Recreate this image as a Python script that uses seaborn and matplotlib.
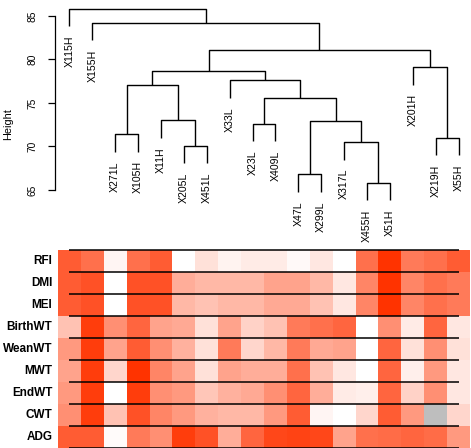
import numpy as np
import pandas as pd
import matplotlib
matplotlib.use('Agg')
import matplotlib.pyplot as plt
import seaborn as sns
from matplotlib.colors import LinearSegmentedColormap

# --- Data ---
leaves = ['X115H', 'X155H', 'X271L', 'X105H', 'X11H', 'X205L', 'X451L', 'X33L', 'X23L',
          'X409L', 'X47L', 'X299L', 'X317L', 'X455H', 'X51H', 'X201H', 'X219H', 'X55H']

# R-style merge matrix: negative = leaf (1-based), positive = earlier merge (1-based)
merge_left = [-14, -11, -6, -13, -17, -3, -9, 2, -5, 7, 6, -8, 11, -16, 13, -2, -1]
merge_right = [-15, -12, -7, 1, -18, -4, -10, 4, 3, 8, 9, 10, 12, 5, 14, 15, 16]
merge_height = [65.8, 66.8, 70.1, 70.5, 71.0, 71.4, 72.6, 72.9, 73.0,
                75.6, 77.1, 77.6, 78.7, 79.1, 81.1, 84.2, 85.8]

traits = ['RFI', 'DMI', 'MEI', 'BirthWT', 'WeanWT', 'MWT', 'EndWT', 'CWT', 'ADG']

rfi     = [0.80, 0.70, 0.05, 0.70, 0.80, 0.00, 0.15, 0.06, 0.10, 0.10, 0.03, 0.12, 0.00, 0.70, 1.00, 0.65, 0.70, 0.80]
dmi     = [0.80, 0.85, 0.00, 0.85, 0.85, 0.40, 0.35, 0.35, 0.35, 0.45, 0.45, 0.35, 0.12, 0.60, 1.00, 0.60, 0.70, 0.65]
mei     = [0.80, 0.85, 0.00, 0.85, 0.85, 0.35, 0.30, 0.35, 0.35, 0.42, 0.42, 0.30, 0.12, 0.60, 1.00, 0.60, 0.70, 0.65]
birthwt = [0.30, 0.95, 0.55, 0.75, 0.45, 0.42, 0.15, 0.45, 0.22, 0.30, 0.65, 0.70, 0.75, 0.00, 0.55, 0.10, 0.75, 0.12]
weanwt  = [0.50, 0.95, 0.45, 0.80, 0.55, 0.38, 0.15, 0.65, 0.20, 0.35, 0.65, 0.42, 0.45, 0.00, 0.75, 0.15, 0.55, 0.15]
mwt     = [0.45, 0.95, 0.20, 1.00, 0.60, 0.45, 0.15, 0.45, 0.40, 0.40, 0.70, 0.30, 0.12, 0.00, 0.75, 0.08, 0.50, 0.12]
endwt   = [0.50, 0.95, 0.00, 0.95, 0.55, 0.50, 0.28, 0.38, 0.42, 0.55, 0.75, 0.40, 0.10, 0.08, 0.75, 0.22, 0.55, 0.12]
cwt     = [0.55, 0.95, 0.30, 0.85, 0.60, 0.50, 0.38, 0.35, 0.35, 0.50, 0.80, 0.05, 0.00, 0.20, 0.80, 0.50, np.nan, 0.20]
adg     = [0.80, 0.80, 0.02, 0.65, 0.55, 0.95, 0.85, 0.40, 0.75, 0.90, 0.92, 0.90, 0.45, 0.70, 0.72, 0.75, 0.72, 0.50]

plt.rcParams['font.family'] = ['Liberation Sans', 'DejaVu Sans']

W, H = 471, 448
fig = plt.figure(figsize=(W / 100, H / 100), dpi=100)

# --- Dendrogram ---
ax_d = fig.add_axes([58 / W, (H - 240) / H, 412 / W, 240 / H])
hang = 0.1 * (max(merge_height) - min(merge_height))

node_x = []
def child_info(ref, parent_h):
    if ref < 0:
        return -ref - 1 + 0.5, parent_h - hang, leaves[-ref - 1]
    return node_x[ref - 1], merge_height[ref - 1], None

for a, b, h in zip(merge_left, merge_right, merge_height):
    xa, ya, la = child_info(a, h)
    xb, yb, lb = child_info(b, h)
    ax_d.plot([xa, xa, xb, xb], [ya, h, h, yb], color='black', lw=1.0, solid_capstyle='butt')
    for x, y, lab in [(xa, ya, la), (xb, yb, lb)]:
        if lab is not None:
            ax_d.annotate(lab, (x, y), xytext=(0, -6.7), textcoords='offset points',
                          rotation=90, ha='center', va='top', fontsize=7.6)
    node_x.append((xa + xb) / 2)

ax_d.set_xlim(0, 18)
ax_d.set_ylim(59.25, 86.84)
for s in ['top', 'right', 'bottom']:
    ax_d.spines[s].set_visible(False)
ax_d.spines['left'].set_bounds(65, 85)
ax_d.spines['left'].set_position(('axes', -0.008))
ax_d.spines['left'].set_linewidth(0.9)
ax_d.set_xticks([])
ax_d.set_yticks([65, 70, 75, 80, 85])
ax_d.tick_params(axis='y', length=4.8, width=0.9, labelsize=7.3, pad=7.5)
for t in ax_d.get_yticklabels():
    t.set_rotation(90)
    t.set_va('center')
fig.text(8 / W, 1 - 124 / H, 'Height', rotation=90, ha='center', va='center', fontsize=7.8)

# --- Heatmap ---
df = pd.DataFrame([rfi, dmi, mei, birthwt, weanwt, mwt, endwt, cwt, adg],
                  index=traits, columns=leaves)
cmap = LinearSegmentedColormap.from_list('white_red', ['#FFFFFF', '#FF3300'])
ax_h = fig.add_axes([58 / W, 0, 412 / W, 198 / H])
ax_h.set_facecolor('#BEBEBE')
sns.heatmap(df, ax=ax_h, cmap=cmap, vmin=0, vmax=1, cbar=False,
            xticklabels=False, yticklabels=True)
ax_h.hlines(np.arange(len(traits) + 1), 0.5, len(leaves) - 0.5,
            color='black', lw=1.1, clip_on=False)
ax_h.set_xlabel('')
ax_h.set_ylabel('')
ax_h.tick_params(axis='y', length=0, pad=4, labelsize=8.5)
for t in ax_h.get_yticklabels():
    t.set_fontweight('bold')
    t.set_rotation(0)

fig.savefig('out.png', dpi=100)
